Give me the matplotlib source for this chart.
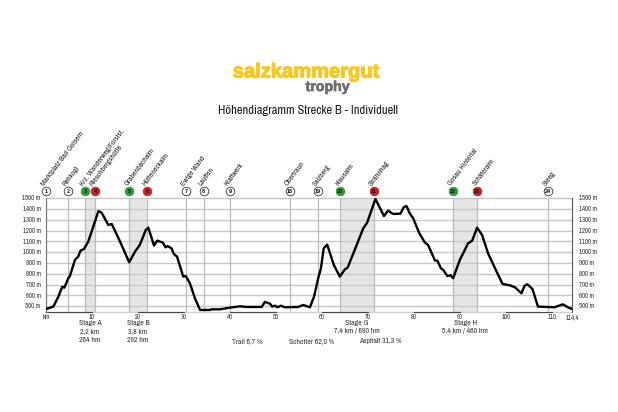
import matplotlib
matplotlib.use("Agg")
import matplotlib.pyplot as plt
import matplotlib.patheffects as pe
from matplotlib.transforms import blended_transform_factory as btf

km = [0,1.6,2.7,3.55,4,4.85,5.2,6.3,7,7.5,8.25,9.2,10.4,11.4,12.1,13.55,14.3,16.1,18.1,19.35,20.4,21.7,22.25,23.5,24.2,25.4,26,26.45,27.3,27.8,28.5,29.85,30.4,31.3,32.4,33.5,35.6,36,37.8,40.05,42.2,43.6,46.9,47.6,48.7,49.2,49.8,50.35,51.1,51.95,54.85,55.95,57.4,58.3,59.2,59.8,60.4,61.15,62.6,63.9,65,65.6,67.2,69,69.85,71.65,73.5,74.4,75.5,77.1,77.8,78.4,79.1,79.85,81.2,82.4,83.1,84.6,85.1,85.9,86.4,87.3,88,88.55,90,91.8,92.7,93.75,94.85,96.15,98,99.3,100.9,102,103.4,104.1,104.7,105.8,107,108.85,110.6,112.4,113.5,114.4]
elev = [475,497,590,682,672,760,780,930,960,1015,1030,1100,1253,1382,1367,1253,1262,1100,907,1006,1068,1207,1228,1062,1108,1090,1046,1058,1037,985,960,775,780,713,574,466,466,472,472,488,500,494,494,540,525,497,506,491,506,491,494,512,491,590,760,852,1037,1071,883,775,842,858,1028,1222,1275,1494,1336,1386,1355,1358,1417,1429,1361,1315,1176,1090,1068,923,923,852,836,780,787,760,929,1083,1108,1228,1160,990,821,707,694,676,620,691,704,660,497,494,491,518,491,475]

marker_km = [0,4.8,8.5,10.7,18.1,22,30.4,34.3,40,53,59.1,64,71.3,88.5,93.8,109.2]
marker_no = ["1","2","3","4","5","6","7","8","9","18","19","20","21","22","23","24"]
marker_kind = ["w","w","g","r","g","r","w","w","w","w","w","g","r","g","r","w"]
marker_names = ["Marktplatz Bad Goisern","Rehkogl","Krz. Wanderweg/Forstst.","Rieschbergshütte","Grabenbachalm","Hütteneckalm","Ewige Wand","Lauffen","Kraftwerk","Obertraun","Salzberg","Klausalm","Strähnhag","Gosau Hintertal","Schäferalm","Steeg"]
stage_bands = [(8.5,10.7),(18.1,22),(64,71.3),(88.5,93.8)]
x_ticks = [10,20,30,40,50,60,70,80,90,100,110]
y_ticks = list(range(500,1600,100))

plt.rcParams['font.family'] = ['Archivo Narrow','Liberation Sans','DejaVu Sans']
W,H = 618,412
fig = plt.figure(figsize=(W/100,H/100),dpi=100)
ax = fig.add_axes([46/W,1-311.7/H,526/W,(311.7-198.3)/H])
ax.set_xlim(0,114.4); ax.set_ylim(450,1500)

grid = '#c8c8c8'
for y in y_ticks:
    ax.axhline(y,color=grid,lw=1.0,zorder=1,clip_on=False)
for a,b in stage_bands:
    ax.axvspan(a,b,color='#e5e5e5',lw=0,zorder=0)
for m in marker_km:
    ax.axvline(m,color='#bcbcbc',lw=0.9,zorder=1.5)
ax.plot(km,elev,color='black',lw=1.7,zorder=3,solid_joinstyle='round')

for s in ['top','bottom']:
    ax.spines[s].set_visible(False)
ax.spines['left'].set_color('#777777'); ax.spines['left'].set_linewidth(0.8)
ax.spines['right'].set_color('#555555'); ax.spines['right'].set_linewidth(0.8)
ax.plot([0,114.4],[450,450],color='#cfcfcf',lw=0.9,clip_on=False,zorder=2)
for a in range(0,110,20):
    ax.plot([a,a+10],[450,450],color='#444444',lw=0.8,clip_on=False,zorder=2)

ax.set_xticks([]); ax.set_yticks([])
tc = '#333333'
ts = 4.8
for y in y_ticks:
    ax.text(-1.15,y,f"{y} m",ha='right',va='center',fontsize=ts,color=tc)
    ax.text(115.9,y,f"{y} m",ha='left',va='center',fontsize=ts,color=tc)
tr = btf(ax.transData,ax.transAxes)
yl = -0.045
for x in x_ticks:
    ax.text(x,yl,str(x),transform=tr,ha='center',va='center',fontsize=ts,color=tc)
ax.text(0,yl,"km",transform=tr,ha='center',va='center',fontsize=ts,color=tc)
ax.text(114.4,yl,"114,4",transform=tr,ha='center',va='center',fontsize=ts,color=tc)

cols = {'w':('white','#333333'),'g':('#2e9b36','#2e9b36'),'r':('#c8202e','#c8202e')}
my = (311.7-191.3)/(311.7-198.3)
for x,n,k,name in zip(marker_km,marker_no,marker_kind,marker_names):
    fc,ec = cols[k]
    ax.plot([x],[my],marker='o',ms=6.2,mfc=fc,mec=ec,mew=0.6,transform=tr,clip_on=False,zorder=5)
    ax.text(x,my,n,transform=tr,ha='center',va='center',fontsize=4.0,fontweight='bold',family=['Liberation Sans','DejaVu Sans'],color='#111111',zorder=6)
    ax.annotate(name,(x,my),xycoords=tr,xytext=(-2.6,4.6),textcoords='offset points',rotation=53,rotation_mode='anchor',ha='left',va='center',fontsize=5.5,color='#222222')

def ftext(px,py,s,size,**kw):
    fig.text(px/W,1-py/H,s,ha='center',va='center',fontsize=size,color=kw.pop('color','#333333'),**kw)
fs = 5.6
for px,lines in [(90,["Stage A","2,2 km","264 hm"]),(138,["Stage B","3,8 km","292 hm"]),(356.7,["Stage G","7,4 km / 690 hm"]),(465,["Stage H","5,4 km / 460 hm"])]:
    for i,l in enumerate(lines):
        ftext(px,322.7+8.4*i,l,fs)
ftext(247,340.7,"Trail 6,7 %",fs)
ftext(311.7,340.7,"Schotter 62,0 %",fs)
ftext(380,340.7,"Asphalt 31,3 %",fs)
logo = ['Liberation Sans','DejaVu Sans']
ftext(306,72,"salzkammergut",14.5,color='#f7c81e',fontweight='bold',family=logo,path_effects=[pe.withStroke(linewidth=0.8,foreground='#f7c81e')])
ftext(327.5,87,"trophy",10.2,color='#6e6e6e',fontweight='bold',family=logo,path_effects=[pe.withStroke(linewidth=0.5,foreground='#6e6e6e')])
ftext(308,110.5,"Höhendiagramm Strecke B - Individuell",9.0,color='#1a1a1a')
fig.savefig('out.png',dpi=100,facecolor='white')
